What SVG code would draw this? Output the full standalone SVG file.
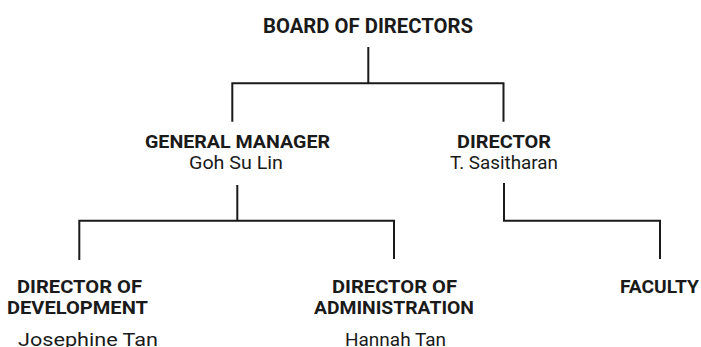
<svg xmlns="http://www.w3.org/2000/svg" width="701" height="347" viewBox="0 0 701 347">
<style>
.t{font-family:Roboto,"Liberation Sans",sans-serif;fill:#1a1a1a}
.b{font-weight:bold;font-size:18px}
.r{font-weight:normal;font-size:19px}
.c{fill:none;stroke:#1a1a1a;stroke-width:2;stroke-linecap:butt;stroke-linejoin:miter}
</style>
<rect width="701" height="347" fill="#fff"/>
<g id="connectors">
<path class="c" d="M368.3,47 V83.3 M232.3,121.7 V83.3 H503.5 V121.7"/>
<path class="c" d="M237.3,185 V220.7 M79.3,260 V220.7 H394 V259"/>
<path class="c" d="M504,183 V220.7 H660 V259"/>
</g>
<g id="board">
<text class="t b" x="263" y="33" style="font-size:21px" textLength="210" lengthAdjust="spacingAndGlyphs">BOARD OF DIRECTORS</text>
</g>
<g id="general-manager">
<text class="t b" x="145" y="148" textLength="185" lengthAdjust="spacingAndGlyphs">GENERAL MANAGER</text>
<text class="t r" x="189" y="169" textLength="94" lengthAdjust="spacingAndGlyphs">Goh Su Lin</text>
</g>
<g id="director">
<text class="t b" x="457" y="148" textLength="94" lengthAdjust="spacingAndGlyphs">DIRECTOR</text>
<text class="t r" x="450" y="169" textLength="108" lengthAdjust="spacingAndGlyphs">T. Sasitharan</text>
</g>
<g id="director-development">
<text class="t b" x="17" y="293" textLength="125" lengthAdjust="spacingAndGlyphs">DIRECTOR OF</text>
<text class="t b" x="7" y="314" textLength="141" lengthAdjust="spacingAndGlyphs">DEVELOPMENT</text>
<text class="t r" x="18" y="346" textLength="140" lengthAdjust="spacingAndGlyphs">Josephine Tan</text>
</g>
<g id="director-administration">
<text class="t b" x="332" y="293" textLength="125" lengthAdjust="spacingAndGlyphs">DIRECTOR OF</text>
<text class="t b" x="314" y="314" textLength="160" lengthAdjust="spacingAndGlyphs">ADMINISTRATION</text>
<text class="t r" x="345" y="346" textLength="101" lengthAdjust="spacingAndGlyphs">Hannah Tan</text>
</g>
<g id="faculty">
<text class="t b" x="620" y="293" textLength="79" lengthAdjust="spacingAndGlyphs">FACULTY</text>
</g>
</svg>
